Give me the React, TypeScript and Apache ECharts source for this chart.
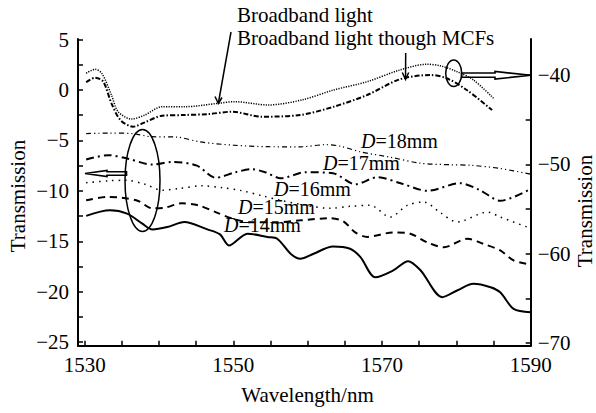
import React, { useEffect, useRef } from "react";
import * as echarts from "echarts";

// Broadband light (right axis)
const wlBroadband = [1530.2, 1531.4, 1532.3, 1533.6, 1534.5, 1536.3, 1538.1, 1540.4, 1543.5, 1548.0, 1550.2, 1554.7, 1559.2, 1563.5, 1568.0, 1572.4, 1576.0, 1577.8, 1580.1, 1582.3, 1585.0];
const trBroadband = [-39.8, -39.35, -39.8, -42.23, -44.1, -44.92, -44.47, -43.54, -43.54, -43.16, -42.98, -43.35, -42.79, -41.67, -40.74, -39.43, -38.79, -38.95, -39.62, -40.55, -42.6];

// Broadband light though MCFs (right axis)
const wlMCF = [1530.2, 1531.4, 1532.5, 1533.6, 1534.8, 1536.5, 1538.1, 1540.4, 1543.5, 1546.7, 1549.8, 1553.8, 1559.0, 1563.5, 1568.0, 1572.4, 1576.5, 1578.7, 1581.4, 1584.8];
const trMCF = [-40.81, -40.29, -40.74, -43.16, -45.03, -45.78, -45.29, -44.55, -44.47, -44.36, -44.1, -44.66, -44.47, -43.54, -42.23, -40.47, -39.99, -40.36, -41.67, -43.91];

// D = 18 mm (left axis)
const wlD18 = [1530.2, 1533.2, 1536.5, 1538.8, 1542.4, 1545.5, 1550.0, 1554.6, 1559.0, 1562.4, 1564.4, 1567.1, 1571.1, 1575.2, 1579.2, 1581.9, 1585.9, 1590];
const trD18 = [-4.32, -4.27, -4.32, -4.62, -4.67, -5.14, -5.47, -5.62, -5.63, -5.42, -5.57, -6.13, -6.66, -7.26, -7.41, -7.46, -7.78, -8.35];

// D = 17 mm
const wlD17 = [1530.2, 1533.2, 1535.7, 1539.1, 1541.8, 1545.1, 1547.6, 1550.3, 1552.5, 1554.3, 1556.4, 1559.7, 1563.4, 1566.4, 1569.4, 1572.5, 1576.1, 1580.5, 1583.2, 1585.9, 1590];
const trD17 = [-6.89, -6.46, -6.79, -7.39, -7.13, -7.5, -8.7, -8.15, -7.85, -8.15, -8.75, -8.15, -8.25, -9.34, -8.65, -9.24, -9.99, -9.24, -9.94, -10.98, -9.8];

// D = 16 mm
const wlD16 = [1530.2, 1533.2, 1535.6, 1538.1, 1540.4, 1542.6, 1545.8, 1548.5, 1551.2, 1553.9, 1556.3, 1559.0, 1563.0, 1565.7, 1568.4, 1571.1, 1573.4, 1575.6, 1577.8, 1580.1, 1584.2, 1585.9, 1590];
const trD16 = [-9.19, -9.0, -8.95, -9.34, -9.94, -9.77, -9.49, -9.69, -9.99, -10.49, -10.93, -11.33, -11.73, -11.53, -11.43, -12.59, -11.43, -11.1, -12.13, -13.09, -12.1, -12.59, -13.72];

// D = 15 mm
const wlD15 = [1530.2, 1533.2, 1535.0, 1537.2, 1539.1, 1540.8, 1543.1, 1545.3, 1547.6, 1549.9, 1552.3, 1555.6, 1559.0, 1563.0, 1564.8, 1566.4, 1568.0, 1571.5, 1573.8, 1576.1, 1578.3, 1581.5, 1583.6, 1585.9, 1587.7, 1589.5];
const trD15 = [-10.93, -10.6, -10.67, -11.0, -11.73, -11.66, -11.23, -11.43, -12.1, -12.75, -13.12, -13.12, -12.92, -12.72, -13.02, -14.12, -14.56, -14.12, -14.25, -15.11, -15.58, -14.74, -15.24, -15.9, -16.9, -17.23];

// D = 14 mm
const wlD14 = [1530.2, 1533.4, 1535.7, 1537.7, 1539.1, 1541.1, 1543.4, 1546.5, 1548.2, 1549.4, 1551.9, 1554.6, 1555.9, 1557.7, 1559.0, 1560.8, 1563.4, 1565.7, 1567.1, 1569.1, 1571.5, 1573.5, 1575.2, 1578.1, 1580.1, 1582.3, 1584.6, 1585.9, 1587.7, 1590];
const trD14 = [-12.48, -11.93, -12.26, -13.22, -13.82, -13.59, -13.09, -13.82, -14.31, -15.41, -14.24, -14.58, -14.74, -16.23, -16.73, -16.23, -15.51, -15.74, -16.57, -18.56, -17.89, -16.97, -17.89, -20.54, -19.88, -19.21, -19.55, -20.05, -21.7, -22.04];

// Axis ticks and labels
const xTicks = [1530, 1535, 1540, 1545, 1550, 1555, 1560, 1565, 1570, 1575, 1580, 1585, 1590];
const xLabels = [1530, 1550, 1570, 1590];
const yLeftTicks = [5, 2.5, 0, -2.5, -5, -7.5, -10, -12.5, -15, -17.5, -20, -22.5, -25];
const yLeftLabels = [5, 0, -5, -10, -15, -20, -25];
const yRightTicks = [-40, -45, -50, -55, -60, -65, -70];
const yRightLabels = [-40, -50, -60, -70];

const FONT = "Liberation Serif";
const fmt = (v: number) => (v < 0 ? "\u2212" + Math.abs(v) : String(v));
const pair = (xs: number[], ys: number[]) => xs.map((x, i) => [x, ys[i]]);

export default function App() {
  const ref = useRef<HTMLDivElement>(null);
  useEffect(() => {
    if (!ref.current) return;
    const chart = echarts.init(ref.current, null, { renderer: "svg" });
    const axisLine = { show: true, onZero: false, lineStyle: { color: "#000", width: 2 } };
    const labelStyle = { color: "#000", fontSize: 21, fontFamily: FONT };
    const txt = (text: string, x: number, y: number, extra: any = {}) => ({
      type: "text",
      x,
      y,
      style: {
        text,
        fontSize: 21,
        fontFamily: FONT,
        fill: "#000",
        align: "left",
        verticalAlign: "middle",
        ...extra,
      },
    });
    const dLabel = (n: number, x: number, y: number) => ({
      type: "text",
      x,
      y,
      style: {
        text: "{i|D}=" + n + "mm",
        fontSize: 20,
        fontFamily: FONT,
        fill: "#000",
        align: "left",
        verticalAlign: "middle",
        rich: { i: { fontStyle: "italic", fontSize: 20, fontFamily: FONT, fill: "#000" } },
      },
    });
    const lineSeries = (name: string, xs: number[], ys: number[], axis: number, ls: any) => ({
      name,
      type: "line",
      yAxisIndex: axis,
      data: pair(xs, ys),
      showSymbol: false,
      smooth: 0.3,
      lineStyle: { color: "#000", ...ls },
      z: 2,
    });
    chart.setOption({
      animation: false,
      grid: { left: 78, right: 65.3, top: 39, bottom: 67.3 },
      xAxis: {
        type: "value",
        min: 1529.1,
        max: 1590,
        axisLine,
        axisTick: { show: true, inside: true, length: 5, lineStyle: { color: "#000", width: 1.5 }, customValues: xTicks },
        axisLabel: { ...labelStyle, margin: 9, customValues: xLabels, formatter: fmt },
        splitLine: { show: false },
      },
      yAxis: [
        {
          type: "value",
          position: "left",
          min: -25.35,
          max: 5.06,
          axisLine,
          axisTick: { show: true, inside: true, length: 5, lineStyle: { color: "#000", width: 1.5 }, customValues: yLeftTicks },
          axisLabel: { ...labelStyle, margin: 9, customValues: yLeftLabels, formatter: fmt },
          splitLine: { show: false },
        },
        {
          type: "value",
          position: "right",
          min: -70.3,
          max: -35.96,
          axisLine,
          axisTick: { show: true, inside: true, length: 5, lineStyle: { color: "#000", width: 1.5 }, customValues: yRightTicks },
          axisLabel: { ...labelStyle, margin: 7, customValues: yRightLabels, formatter: fmt },
          splitLine: { show: false },
        },
      ],
      series: [
        lineSeries("Broadband light", wlBroadband, trBroadband, 1, { width: 1.5, type: [1.2, 1.3] }),
        lineSeries("Broadband light though MCFs", wlMCF, trMCF, 1, { width: 2, type: [5, 2, 1.5, 2] }),
        lineSeries("D=18mm", wlD18, trD18, 0, { width: 1.2, type: [5, 3, 1.2, 3, 1.2, 3] }),
        lineSeries("D=17mm", wlD17, trD17, 0, { width: 2, type: [8, 4, 2, 4] }),
        lineSeries("D=16mm", wlD16, trD16, 0, { width: 1.5, type: [1.5, 5] }),
        lineSeries("D=15mm", wlD15, trD15, 0, { width: 2, type: [7, 5] }),
        lineSeries("D=14mm", wlD14, trD14, 0, { width: 2 }),
      ],
      graphic: [
        txt("Broadband light", 237, 14.6),
        txt("Broadband light though MCFs", 237, 37.9),
        dLabel(18, 361, 141),
        dLabel(17, 323, 163),
        dLabel(16, 274, 189),
        dLabel(15, 238, 206.5),
        dLabel(14, 224, 225),
        txt("Wavelength/nm", 307.5, 395, { align: "center" }),
        { type: "text", x: 18, y: 196, rotation: Math.PI / 2, style: { text: "Transmission", fontSize: 21, fontFamily: FONT, fill: "#000", align: "center", verticalAlign: "middle" } },
        { type: "text", x: 584.5, y: 211, rotation: Math.PI / 2, style: { text: "Transmission", fontSize: 21, fontFamily: FONT, fill: "#000", align: "center", verticalAlign: "middle" } },
        // slanted arrow to Broadband light
        { type: "line", shape: { x1: 231, y1: 32, x2: 218.4, y2: 103 }, style: { stroke: "#000", lineWidth: 1.5 } },
        { type: "polyline", shape: { points: [[215, 96.5], [218.4, 103.5], [222, 97.5]] }, style: { stroke: "#000", lineWidth: 1.5, fill: "none" } },
        // vertical arrow to MCF curve
        { type: "line", shape: { x1: 405.7, y1: 53, x2: 405.5, y2: 79 }, style: { stroke: "#000", lineWidth: 1.5 } },
        { type: "polyline", shape: { points: [[402.3, 72.5], [405.5, 79.5], [408.7, 72.5]] }, style: { stroke: "#000", lineWidth: 1.5, fill: "none" } },
        // ellipses
        { type: "ellipse", shape: { cx: 142.5, cy: 180.5, rx: 17.5, ry: 51 }, style: { fill: "none", stroke: "#000", lineWidth: 1.5 } },
        { type: "ellipse", shape: { cx: 453.7, cy: 73.3, rx: 8, ry: 13.3 }, style: { fill: "none", stroke: "#000", lineWidth: 1.5 } },
        // hollow arrows
        { type: "polygon", shape: { points: [[461.7, 73], [495, 73], [495, 71.5], [531, 75.3], [495, 79], [495, 77.3], [461.7, 77.3]] }, style: { fill: "none", stroke: "#000", lineWidth: 1.6 } },
        { type: "polygon", shape: { points: [[85, 173.5], [107, 170.5], [107, 171.8], [126.5, 171.8], [126.5, 175.2], [107, 175.2], [107, 176.5]] }, style: { fill: "none", stroke: "#000", lineWidth: 1.6 } },
      ],
    });
    return () => chart.dispose();
  }, []);
  return <div ref={ref} style={{ position: "absolute", left: 0, top: 0, width: 596, height: 413, background: "#fff" }} />;
}
